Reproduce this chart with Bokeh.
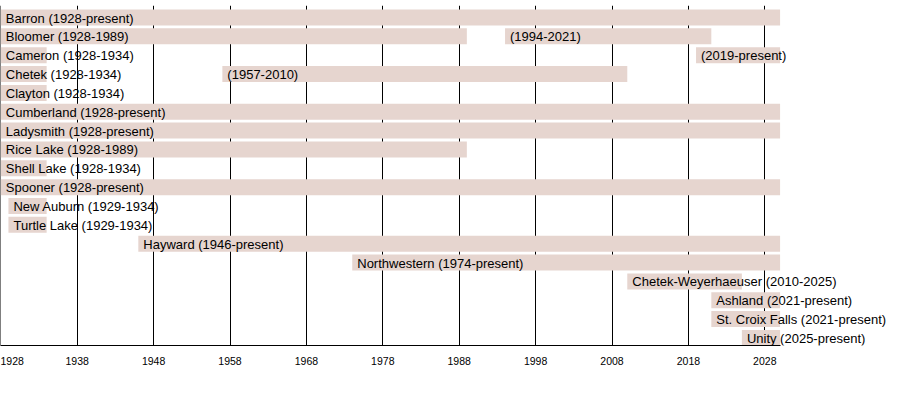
from bokeh.plotting import figure
from bokeh.models import Range1d, FixedTicker, ColumnDataSource
from bokeh.core.properties import value
from bokeh.embed import file_html
from bokeh.resources import INLINE
import numpy as np

PRESENT = 2030

# rows (top to bottom)
rows = ["Barron", "Bloomer", "Cameron", "Chetek", "Clayton", "Cumberland", "Ladysmith",
        "Rice Lake", "Shell Lake", "Spooner", "New Auburn", "Turtle Lake", "Hayward",
        "Northwestern", "Chetek-Weyerhaeuser", "Ashland", "St. Croix Falls", "Unity"]

# segments: row index, start year, end year, label
seg_row = [0, 1, 1, 2, 2, 3, 3, 4, 5, 6, 7, 8, 9, 10, 11, 12, 13, 14, 15, 16, 17]
seg_start = [1928, 1928, 1994, 1928, 2019, 1928, 1957, 1928, 1928, 1928, 1928, 1928, 1928,
             1929, 1929, 1946, 1974, 2010, 2021, 2021, 2025]
seg_end = [PRESENT, 1989, 2021, 1934, PRESENT, 1934, 2010, 1934, PRESENT, PRESENT, 1989, 1934,
           PRESENT, 1934, 1934, PRESENT, PRESENT, 2025, PRESENT, PRESENT, PRESENT]
seg_label = ["Barron (1928-present)", "Bloomer (1928-1989)", "(1994-2021)",
             "Cameron (1928-1934)", "(2019-present)", "Chetek (1928-1934)", "(1957-2010)",
             "Clayton (1928-1934)", "Cumberland (1928-present)", "Ladysmith (1928-present)",
             "Rice Lake (1928-1989)", "Shell Lake (1928-1934)", "Spooner (1928-present)",
             "New Auburn (1929-1934)", "Turtle Lake (1929-1934)", "Hayward (1946-present)",
             "Northwestern (1974-present)", "Chetek-Weyerhaeuser (2010-2025)",
             "Ashland (2021-present)", "St. Croix Falls (2021-present)", "Unity (2025-present)"]

tick_years = [1928, 1938, 1948, 1958, 1968, 1978, 1988, 1998, 2008, 2018, 2028]

# layout (screen pixels relative to the figure's top-left corner)
PX_PER_YEAR = 7.64
ORIGIN_PX = 0.3          # x of 1928
FRAME_W = 890
ROW_PX = 18.85
ROW0_PX = 17.0
FRAME_TOP = 5
AXIS_PX = 345
FRAME_H = AXIS_PX - FRAME_TOP

x0 = 1928 - ORIGIN_PX / PX_PER_YEAR
x1 = 1928 + (FRAME_W - ORIGIN_PX) / PX_PER_YEAR
y_top = (FRAME_TOP - ROW0_PX) / ROW_PX
y_bot = (AXIS_PX - ROW0_PX) / ROW_PX

p = figure(frame_width=FRAME_W, frame_height=FRAME_H, output_backend="svg",
           toolbar_location=None, x_range=Range1d(x0, x1), y_range=Range1d(y_bot, y_top),
           min_border_left=0, min_border_right=0, min_border_top=FRAME_TOP, min_border_bottom=30)
p.outline_line_color = None
p.background_fill_color = "white"
p.border_fill_color = "white"

starts = np.array(seg_start, dtype=float)
text_x = starts + 5 / PX_PER_YEAR
src = ColumnDataSource(dict(y=seg_row, left=seg_start, right=seg_end, label=seg_label, tx=text_x))

p.hbar(y="y", left="left", right="right", height=16 / ROW_PX, source=src,
       fill_color="#e6d5cf", line_color=None)
p.text(x="tx", y="y", text="label", source=src, text_font=value("Liberation Sans"),
       text_font_size="13px", text_baseline="middle", text_align="left", text_color="black",
       y_offset=0.5)

p.yaxis.visible = False
p.ygrid.visible = False
p.xgrid.ticker = FixedTicker(ticks=tick_years)
p.xgrid.grid_line_color = "black"
p.xgrid.grid_line_alpha = 1
p.xgrid.grid_line_width = 1

ax = p.xaxis[0]
ax.ticker = FixedTicker(ticks=tick_years)
ax.bounds = (1928, PRESENT)
ax.axis_line_color = "black"
ax.major_tick_in = 0
ax.major_tick_out = 0
ax.minor_tick_in = 0
ax.minor_tick_out = 0
ax.major_label_standoff = 11
ax.major_label_text_font = "Liberation Sans"
ax.major_label_text_font_size = "10.5px"
ax.major_label_text_color = "black"

open("out.html", "w").write(file_html(p, INLINE))
